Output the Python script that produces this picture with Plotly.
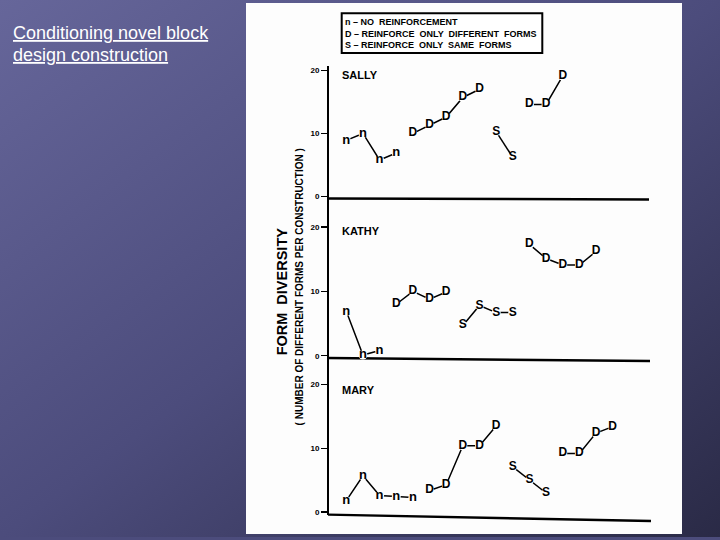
import base64
import plotly.graph_objects as go

# ---------------- data ----------------
SUBJECTS = ["SALLY", "KATHY", "MARY"]

SALLY_CONDITIONS = ["n", "D", "S", "D"]
SALLY_SESSIONS = [[1, 2, 3, 4], [5, 6, 7, 8, 9], [10, 11], [12, 13, 14]]
SALLY_VALUES = [[8.9, 10.0, 5.8, 6.9], [10.0, 11.3, 12.6, 15.7, 17.0], [10.3, 6.2], [14.6, 14.6, 19.1]]

KATHY_CONDITIONS = ["n", "D", "S", "D"]
KATHY_SESSIONS = [[1, 2, 3], [4, 5, 6, 7], [8, 9, 10, 11], [12, 13, 14, 15, 16]]
KATHY_VALUES = [[6.9, 0.1, 0.8], [8.0, 10.0, 8.8, 9.9], [4.7, 7.8, 6.7, 6.7], [17.3, 15.1, 14.1, 14.1, 16.2]]

MARY_CONDITIONS = ["n", "D", "S", "D"]
MARY_SESSIONS = [[1, 2, 3, 4, 5], [6, 7, 8, 9, 10], [11, 12, 13], [14, 15, 16, 17]]
MARY_VALUES = [[1.8, 5.7, 2.6, 2.4, 2.3], [3.4, 4.3, 10.4, 10.4, 13.5], [7.1, 5.0, 3.0], [9.2, 9.2, 12.4, 13.4]]

Y_TICKS = [0, 10, 20]
Y_TICK_LABELS = ["0", "10", "20"]

LEGEND_LINES = ["n – NO  REINFORCEMENT",
                "D – REINFORCE  ONLY  DIFFERENT  FORMS",
                "S – REINFORCE  ONLY  SAME  FORMS"]
TITLE_LINES = ["Conditioning novel block", "design construction"]
Y_TITLE = "FORM  DIVERSITY"
Y_SUBTITLE = "( NUMBER OF DIFFERENT FORMS PER CONSTRUCTION )"

# ---------------- layout geometry (pixels) ----------------
W, H = 720, 540
FONT = "Liberation Sans, Arial, sans-serif"


def fx(p):
    return p / W


def fy(p):
    return 1 - p / H


# per panel: pixel of value 0, pixel of value 20, bottom of axis, top of axis,
# x-axis line left/right y pixel, right end x pixel
PANELS = [
    dict(zero=197.7, twenty=70.7, bottom=199.5, top=66.7, xl=199.5, xr=200.5, xend=649),
    dict(zero=357.7, twenty=228.3, bottom=360.5, top=199.5, xl=360.0, xr=363.0, xend=650),
    dict(zero=515.0, twenty=386.7, bottom=517.5, top=360.5, xl=517.5, xr=524.0, xend=651),
]
AX_LEFT, AX_RIGHT = 329, 649
FIRST_SESSION_PX, SESSION_STEP = 346.3, 16.65

all_data = [
    (SALLY_CONDITIONS, SALLY_SESSIONS, SALLY_VALUES),
    (KATHY_CONDITIONS, KATHY_SESSIONS, KATHY_VALUES),
    (MARY_CONDITIONS, MARY_SESSIONS, MARY_VALUES),
]

fig = go.Figure()

for i, (conds, sess, vals) in enumerate(all_data):
    ax = "" if i == 0 else str(i + 1)
    for c, xs, ys in zip(conds, sess, vals):
        fig.add_trace(go.Scatter(
            x=xs, y=ys, xaxis="x" + ax, yaxis="y" + ax,
            mode="lines+markers+text",
            text=[c] * len(xs), textposition="middle center",
            textfont=dict(family=FONT, size=12 if c != "n" else 13, color="black", weight="bold"),
            marker=dict(size=9, color="white", line=dict(width=0)),
            line=dict(color="black", width=1.5),
            showlegend=False, hoverinfo="skip", cliponaxis=False,
        ))

layout_axes = {}
shapes = []
annotations = []
xlo = (AX_LEFT - FIRST_SESSION_PX) / SESSION_STEP + 1
xhi = (AX_RIGHT - FIRST_SESSION_PX) / SESSION_STEP + 1
for i, p in enumerate(PANELS):
    ax = "" if i == 0 else str(i + 1)
    unit = (p["zero"] - p["twenty"]) / 20
    ylo = -(p["bottom"] - p["zero"]) / unit
    yhi = (p["zero"] - p["top"]) / unit
    layout_axes["xaxis" + ax] = dict(
        domain=[fx(AX_LEFT), fx(AX_RIGHT)], range=[xlo, xhi], anchor="y" + ax,
        showline=False, showgrid=False, zeroline=False, showticklabels=False, ticks="",
    )
    layout_axes["yaxis" + ax] = dict(
        domain=[fy(p["bottom"]), fy(p["top"])], range=[ylo, yhi], anchor="x" + ax,
        showline=True, linecolor="black", linewidth=2, showgrid=False, zeroline=False,
        tickvals=Y_TICKS, ticktext=Y_TICK_LABELS, ticks="outside", ticklen=6, tickwidth=1.5,
        tickcolor="black", tickfont=dict(family=FONT, size=8, color="black", weight="bold"),
    )
    shapes.append(dict(type="line", xref="paper", yref="paper",
                       x0=fx(AX_LEFT - 1), y0=fy(p["xl"]), x1=fx(p["xend"]), y1=fy(p["xr"]),
                       line=dict(color="black", width=2.5), layer="below"))
    annotations.append(dict(text=SUBJECTS[i], xref="paper", yref="paper",
                            x=fx(340), y=fy([75, 232.5, 391.7][i]), xanchor="left", yanchor="middle",
                            showarrow=False,
                            font=dict(family=FONT, size=11, color="black", weight="bold")))

# white panel
shapes.insert(0, dict(type="rect", xref="paper", yref="paper", x0=fx(246), x1=fx(682),
                      y0=fy(537), y1=fy(3), fillcolor="#fdfdfd", line=dict(width=0), layer="below"))
# legend box
shapes.append(dict(type="rect", xref="paper", yref="paper", x0=fx(341.7), x1=fx(542.3),
                   y0=fy(53.3), y1=fy(13.3), fillcolor="white",
                   line=dict(color="black", width=2), layer="below"))

annotations.append(dict(text="<br>".join(LEGEND_LINES), xref="paper", yref="paper",
                        x=fx(344), y=fy(33.2), xanchor="left", yanchor="middle", align="left",
                        showarrow=False, borderpad=0,
                        font=dict(family=FONT, size=9, color="black", weight="bold")))

annotations.append(dict(text=Y_TITLE, xref="paper", yref="paper", x=fx(282), y=fy(293),
                        textangle=-90, showarrow=False, xanchor="center", yanchor="middle",
                        font=dict(family=FONT, size=14.5, color="black", weight="bold")))
annotations.append(dict(text=Y_SUBTITLE, xref="paper", yref="paper", x=fx(299), y=fy(289),
                        textangle=-90, showarrow=False, xanchor="center", yanchor="middle",
                        font=dict(family=FONT, size=10, color="black", weight="bold")))

for txt, yy in zip(TITLE_LINES, [33, 55]):
    annotations.append(dict(text="<u>" + txt + "</u>", xref="paper", yref="paper",
                            x=fx(11), y=fy(yy), xanchor="left", yanchor="middle", showarrow=False,
                            font=dict(family=FONT, size=18, color="white")))

# slide background gradient as an SVG image
svg = ("<svg xmlns='http://www.w3.org/2000/svg' width='720' height='540' preserveAspectRatio='none'>"
       "<defs><linearGradient id='g' x1='0' y1='0' x2='1' y2='1'>"
       "<stop offset='0' stop-color='#66669a'/>"
       "<stop offset='0.5' stop-color='#4c4c7c'/>"
       "<stop offset='1' stop-color='#2a2a46'/>"
       "</linearGradient></defs><rect width='720' height='540' fill='url(#g)'/></svg>")
src = "data:image/svg+xml;base64," + base64.b64encode(svg.encode()).decode()

fig.update_layout(
    width=W, height=H, margin=dict(l=0, r=0, t=0, b=0),
    paper_bgcolor="#4c4c7c", plot_bgcolor="rgba(0,0,0,0)",
    showlegend=False, hovermode=False, shapes=shapes, annotations=annotations,
    images=[dict(source=src, xref="paper", yref="paper", x=0, y=1, sizex=1, sizey=1,
                 xanchor="left", yanchor="top", sizing="stretch", layer="below")],
    **layout_axes,
)

fig.write_html("out.html", config={"displayModeBar": False, "staticPlot": True},
               post_script="document.body.style.margin='0';document.body.style.overflow='hidden';")
